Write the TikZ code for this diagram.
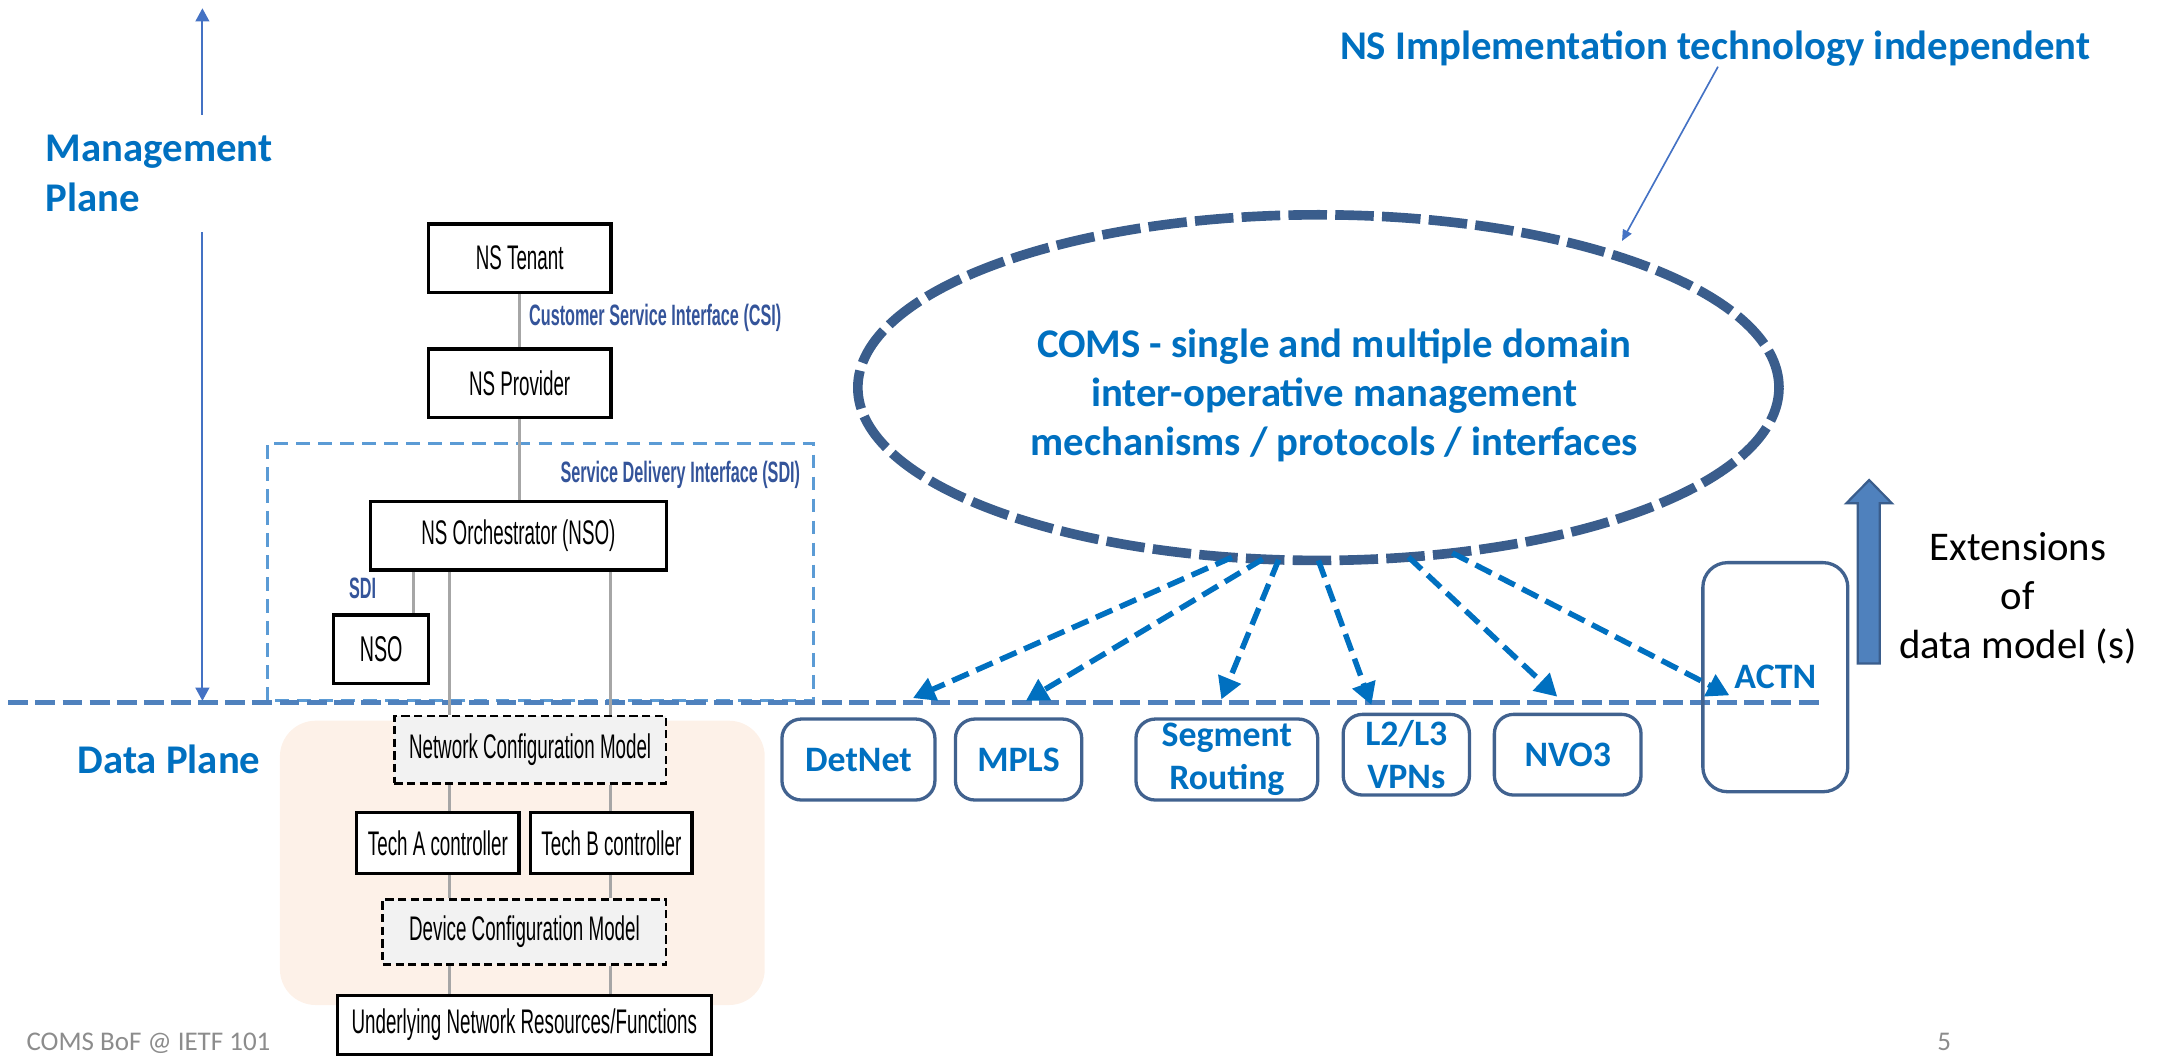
\documentclass[tikz,border=0pt]{standalone}
\usepackage{fontspec}
\setmainfont{Carlito}
\newfontfamily\narrowfont[FakeStretch=0.55]{Liberation Sans}
\usetikzlibrary{arrows.meta,shapes.geometric}

\definecolor{cblue}{HTML}{0070C0}
\definecolor{lblue}{HTML}{34549A}
\definecolor{ellc}{HTML}{3A5D8C}
\definecolor{dline}{HTML}{4F81BD}
\definecolor{sdic}{HTML}{5B9BD5}
\definecolor{thinc}{HTML}{4472C4}
\definecolor{peach}{HTML}{FDF1E8}
\definecolor{connc}{HTML}{A6A6A6}
\definecolor{dfill}{HTML}{F2F2F2}
\definecolor{boxc}{HTML}{41628F}
\definecolor{footc}{HTML}{8C8C8C}

\begin{document}
\begin{tikzpicture}[x=0.5pt,y=-0.5pt,
  box/.style={draw=black, line width=1.2pt, fill=white, inner sep=0pt,
    font=\narrowfont\fontsize{12.4}{14.5}\selectfont},
  dbox/.style={box, fill=dfill, line width=1pt, dash pattern=on 3pt off 1.6pt},
  conn/.style={draw=connc, line width=1pt},
  lbl/.style={font=\narrowfont\bfseries\fontsize{10.7}{12.5}\selectfont, text=lblue, inner sep=0pt},
  big/.style={font=\bfseries\fontsize{14.8}{17.85}\selectfont, text=cblue, inner sep=0pt},
  techbox/.style={draw=boxc, line width=1.2pt, rounded corners=7pt, fill=white, inner sep=0pt,
    font=\bfseries\fontsize{13}{15.75}\selectfont, text=cblue, align=center},
  darrow/.style={draw=cblue, line width=2pt, dash pattern=on 6.5pt off 3pt,
    -{Triangle[length=8pt,width=8.5pt]}},
  thinarrow/.style={draw=thinc, line width=0.75pt, -{Triangle[length=4.8pt,width=5pt]}}
]
\useasboundingbox (0,0) rectangle (1568,768);

% peach background of the lower part
\fill[peach, rounded corners=13pt] (203.3,523.4) rectangle (555.4,729.9);

% SDI dashed region
\draw[sdic, line width=1.1pt, dash pattern=on 5pt off 3pt] (194.1,509) rectangle (591,322);

% management / data plane separator
\coordinate (dlL) at (6,510.3);
\coordinate (dlR) at (1323.3,510.3);
\draw[dline, line width=1.95pt, dash pattern=on 7.25pt off 2.6pt] (dlL) -- (dlR);

% left stack
\node[box, minimum width=66.3pt, minimum height=24.8pt] (tenant) at (377.4,187.5) {NS Tenant};
\node[box, minimum width=66.3pt, minimum height=24.9pt] (provider) at (377.4,278.4) {NS Provider};
\node[box, minimum width=107.4pt, minimum height=24.85pt] (nso) at (376.5,389.2) {NS Orchestrator (NSO)};
\node[box, minimum width=34.35pt, minimum height=24.8pt, font=\narrowfont\fontsize{13}{15}\selectfont] (nsos) at (276.8,471.5) {NSO};
\node[dbox, minimum width=98.65pt, minimum height=24.5pt] (ncm) at (385,544.5) {Network Configuration Model};
\node[box, minimum width=58.95pt, minimum height=22pt] (techA) at (318,612.3) {Tech A controller};
\node[box, minimum width=58.65pt, minimum height=22pt] (techB) at (444,612.3) {Tech B controller};
\node[dbox, minimum width=102.85pt, minimum height=23.6pt] (dcm) at (380.9,676.8) {Device Configuration Model};
\node[box, minimum width=135.75pt, minimum height=21.3pt] (under) at (380.8,744.5) {Underlying Network Resources/Functions};

\coordinate (xS) at (300.5,0);
\coordinate (xA) at (326.4,0);
\coordinate (xB) at (443.5,0);
\draw[conn] (tenant.south) -- (provider.north);
\draw[conn] (provider.south) -- (provider.south |- nso.north);
\draw[conn] (nso.south -| xS) -- (nsos.north -| xS);
\draw[conn] (nso.south -| xA) -- (ncm.north -| xA);
\draw[conn] (nso.south -| xB) -- (ncm.north -| xB);
\draw[conn] (ncm.south -| xA) -- (techA.north -| xA);
\draw[conn] (ncm.south -| xB) -- (techB.north -| xB);
\draw[conn] (techA.south -| xA) -- (dcm.north -| xA);
\draw[conn] (techB.south -| xB) -- (dcm.north -| xB);
\draw[conn] (dcm.south -| xA) -- (under.north -| xA);
\draw[conn] (dcm.south -| xB) -- (under.north -| xB);

\node[lbl, anchor=west] (csi) at (383.9,231.2) {Customer Service Interface (CSI)};
\node[lbl, anchor=west] (sdil) at (406.7,345) {Service Delivery Interface (SDI)};
\node[lbl] (sdis) at (263.3,427.3) {SDI};

% plane labels and arrows
\node[big, align=left, anchor=west] (mgmt) at (33,126) {Management\\Plane};
\node[big, anchor=base west] (data) at (56,561.6) {Data Plane};
\coordinate (mTop) at (147,6);
\coordinate (mA) at (147,83.5);
\coordinate (mB) at (147,168.7);
\coordinate (mBot) at (147,509);
\draw[thinarrow] (mA) -- (mTop);
\draw[thinarrow] (mB) -- (mBot);

% COMS ellipse
\node[ellipse, draw=ellc, line width=3.5pt, dash pattern=on 14pt off 3pt,
  minimum width=334.5pt, minimum height=125.5pt, inner sep=0pt, outer sep=0pt,
  label={[big, align=center, xshift=5.75pt, yshift=-2.75pt]center:{COMS - single and multiple domain\\inter-operative management\\mechanisms / protocols / interfaces}}]
  (coms) at (957.5,281.5) {};

\node[big, anchor=base] (impl) at (1245.7,43) {NS Implementation technology independent};
\coordinate (implTip) at (1178,175);
\draw[draw=thinc, line width=0.6pt, -{Triangle[length=4pt,width=3.5pt]}] ([xshift=1pt]impl.south) -- (implTip);

% technology boxes
\node[techbox, minimum width=55.55pt, minimum height=29.4pt] (detnet) at (623.45,551.6) {DetNet};
\node[techbox, minimum width=45.85pt, minimum height=29.4pt] (mpls) at (739.75,551.6) {MPLS};
\node[techbox, minimum width=66pt, minimum height=29.4pt] (sr) at (891,551.6) {Segment\\Routing};
\node[techbox, minimum width=45.85pt, minimum height=29.3pt] (vpn) at (1021.35,548.1) {L2/L3\\VPNs};
\node[techbox, minimum width=53.25pt, minimum height=29.3pt] (nvo) at (1138.55,548.1) {NVO3};
\node[techbox, minimum width=52.65pt, minimum height=83.2pt, rounded corners=9pt, fill=none] (actn) at (1289.35,491.8) {ACTN};

% dashed arrows from COMS
\coordinate (t1) at (663,507);
\coordinate (t2) at (745,509);
\coordinate (t3) at (887,508);
\coordinate (t4) at (996,512);
\coordinate (t5) at (1131,506);
\coordinate (t6) at (1256,505);
\draw[darrow] (coms.243.1) -- (t1);
\draw[darrow] (coms.252.4) -- (t2);
\draw[darrow] (coms.257.6) -- (t3);
\draw[darrow] (coms.270) -- (t4);
\draw[darrow] (coms.298.4) -- (t5);
\draw[darrow] (coms.309.1) -- (t6);

% extensions arrow and text
\draw[fill=dline, draw=ellc, line width=0.8pt] (1349.2,481.8) -- (1349.2,365.5) -- (1340.9,365.5)
  -- (1357.5,348.6) -- (1374,365.5) -- (1365.2,365.5) -- (1365.2,481.8) -- cycle;
\node[font=\fontsize{14.8}{17.9}\selectfont, align=center, inner sep=0pt] (ext) at (1465.5,434.5) {Extensions\\of\\data model (s)};

% footer
\node[font=\fontsize{9.8}{11}\selectfont, text=footc, anchor=base west, inner sep=0pt] (foot) at (18.9,763) {COMS BoF @ IETF 101};
\node[font=\fontsize{9.8}{11}\selectfont, text=footc, anchor=base, inner sep=0pt] (pnum) at (1412,763) {5};
\end{tikzpicture}
\end{document}
